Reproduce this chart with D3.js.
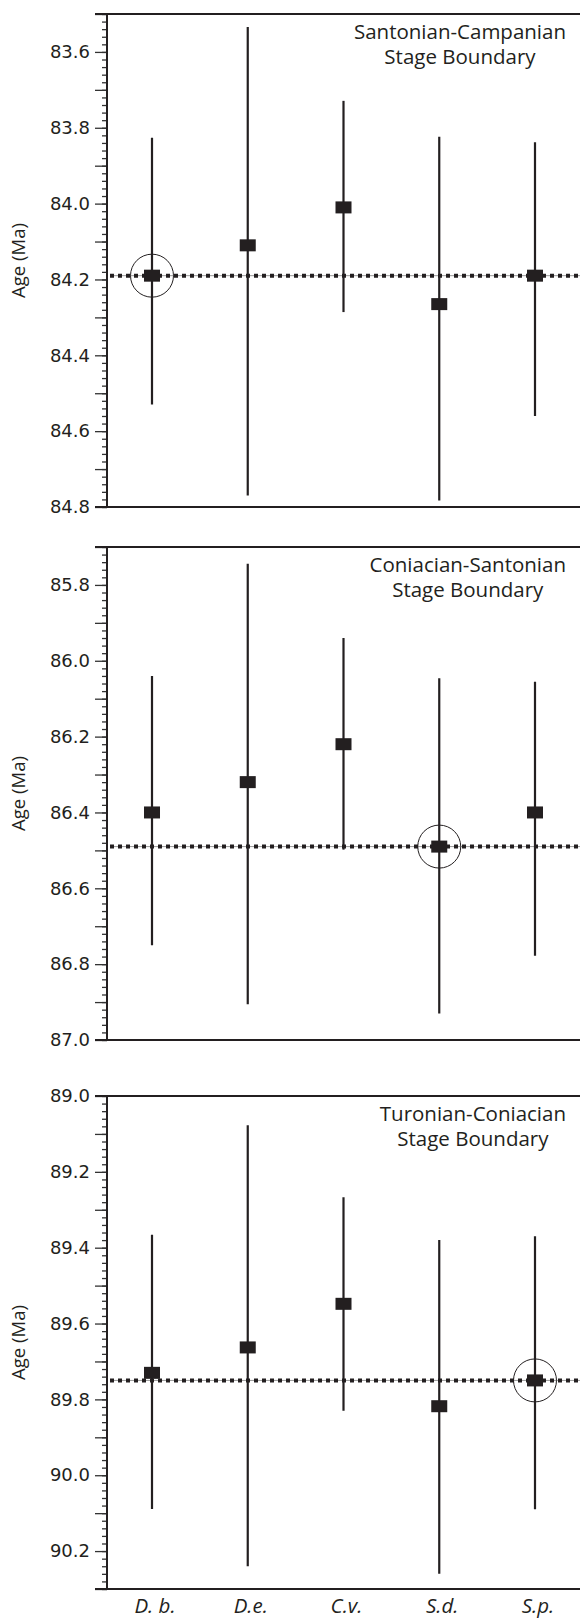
<!DOCTYPE html>
<html>
<head>
<meta charset="utf-8">
<script src="https://cdn.jsdelivr.net/npm/d3@7"></script>
<style>
  body { margin: 0; background: #fff; }
  svg { display: block; }
</style>
</head>
<body>
<div id="age-plot"></div>
<script>
// taxa on the x axis (same for every panel)
var taxa = ["D. b.", "D.e.", "C.v.", "S.d.", "S.p."];

// panel titles, two lines each
var titles = [
  ["Santonian-Campanian", "Stage Boundary"],
  ["Coniacian-Santonian", "Stage Boundary"],
  ["Turonian-Coniacian", "Stage Boundary"]
];

// y domain of each panel (Ma, younger at top)
var domains = [[83.5, 84.8], [85.7, 87.0], [89.0, 90.3]];

// the stage boundary age drawn as the dotted line
var boundaryAges = [84.19, 86.49, 89.75];

// index of the taxon that is circled in each panel
var circled = [0, 3, 4];

// ages and error bar ends, Santonian-Campanian
var ages1 = [84.19, 84.11, 84.01, 84.265, 84.19];
var young1 = [83.826, 83.534, 83.729, 83.824, 83.838];
var old1 = [84.53, 84.77, 84.286, 84.783, 84.56];

// Coniacian-Santonian
var ages2 = [86.40, 86.32, 86.22, 86.49, 86.40];
var young2 = [86.04, 85.744, 85.94, 86.046, 86.055];
var old2 = [86.75, 86.906, 86.498, 86.93, 86.778];

// Turonian-Coniacian
var ages3 = [89.73, 89.663, 89.548, 89.818, 89.75];
var young3 = [89.366, 89.077, 89.267, 89.38, 89.37];
var old3 = [90.089, 90.24, 89.83, 90.26, 90.09];

var ages = [ages1, ages2, ages3];
var youngs = [young1, young2, young3];
var olds = [old1, old2, old3];

var width = 580, height = 1618;
var left = 107;
var panelTops = [14, 547, 1096];
var panelHeight = 493;

var svg = d3.select("#age-plot").append("svg")
  .attr("width", width)
  .attr("height", height);

// shared x scale
var x = d3.scalePoint()
  .domain(taxa)
  .range([left, width])
  .padding(0.47);

var labelFont = "'Open Sans', sans-serif";

function drawPanel(p) {
  var top = panelTops[p];
  var g = svg.append("g").attr("transform", "translate(0," + top + ")");

  var y = d3.scaleLinear()
    .domain(domains[p])
    .range([0, panelHeight]);

  // minor ticks every 0.02, medium every 0.1, labelled every 0.2
  var d0 = domains[p][0], d1 = domains[p][1];
  var n = Math.round((d1 - d0) / 0.02);
  var minor = d3.range(n + 1).map(function(i) { return d0 + i * 0.02; });
  var major = minor.filter(function(v, i) { return i % 5 == 0; });
  var labelled = major.filter(function(v) { return Math.abs(Math.round(v * 10) % 2) == 0; });

  g.append("g")
    .attr("transform", "translate(" + left + ",0)")
    .call(d3.axisLeft(y).tickValues(minor).tickSize(5).tickFormat(""))
    .call(function(a) { a.select(".domain").remove(); })
    .selectAll("line").attr("stroke", "#333").attr("stroke-width", 1.3);

  var ax = g.append("g")
    .attr("transform", "translate(" + left + ",0)")
    .call(d3.axisLeft(y).tickValues(major).tickSize(12).tickPadding(5)
      .tickFormat(function(v) {
        return labelled.indexOf(v) >= 0 ? d3.format(".1f")(v) : "";
      }));
  ax.select(".domain").remove();
  ax.selectAll("line").attr("stroke", "#333").attr("stroke-width", 1.3);
  ax.selectAll("text")
    .attr("font-family", "'DejaVu Sans', sans-serif")
    .attr("font-size", 18)
    .attr("fill", "#231f20");

  // frame: left axis, top and bottom lines (no right side)
  g.append("line")
    .attr("x1", left).attr("x2", left)
    .attr("y1", 0).attr("y2", panelHeight)
    .attr("stroke", "#231f20").attr("stroke-width", 2);
  g.append("line")
    .attr("x1", left - 12).attr("x2", width)
    .attr("y1", 0).attr("y2", 0)
    .attr("stroke", "#231f20").attr("stroke-width", 2);
  g.append("line")
    .attr("x1", left - 12).attr("x2", width)
    .attr("y1", panelHeight).attr("y2", panelHeight)
    .attr("stroke", "#231f20").attr("stroke-width", 2);

  // y axis title
  g.append("text")
    .attr("transform", "translate(25," + (panelHeight / 2) + ") rotate(-90)")
    .attr("text-anchor", "middle")
    .attr("font-family", labelFont)
    .attr("font-size", 18.5)
    .attr("fill", "#231f20")
    .text("Age (Ma)");

  // panel title, first line right-ish, second centred under it
  var t1 = g.append("text")
    .attr("x", 566).attr("y", 25)
    .attr("text-anchor", "end")
    .attr("font-family", labelFont)
    .attr("font-size", 20.5)
    .attr("fill", "#231f20")
    .text(titles[p][0]);
  var w1 = t1.node().getComputedTextLength();
  var cx = 566 - w1 / 2;
  t1.attr("x", cx).attr("text-anchor", "middle");
  g.append("text")
    .attr("x", cx).attr("y", 50)
    .attr("text-anchor", "middle")
    .attr("font-family", labelFont)
    .attr("font-size", 20.5)
    .attr("fill", "#231f20")
    .text(titles[p][1]);

  // boundary: thin grey line with square dots on top
  var by = y(boundaryAges[p]);
  g.append("line")
    .attr("x1", left + 3).attr("x2", width)
    .attr("y1", by).attr("y2", by)
    .attr("stroke", "#9a9a9a").attr("stroke-width", 1);
  g.append("line")
    .attr("x1", left + 3).attr("x2", width)
    .attr("y1", by).attr("y2", by)
    .attr("stroke", "#231f20").attr("stroke-width", 4)
    .attr("stroke-dasharray", "4,4");

  var rows = taxa.map(function(t, i) {
    return {taxon: t, age: ages[p][i], young: youngs[p][i], old: olds[p][i]};
  });

  // error bars
  g.selectAll(".err")
    .data(rows)
    .enter().append("line")
    .attr("class", "err")
    .attr("x1", function(d) { return x(d.taxon); })
    .attr("x2", function(d) { return x(d.taxon); })
    .attr("y1", function(d) { return y(d.young); })
    .attr("y2", function(d) { return y(d.old); })
    .attr("stroke", "#231f20").attr("stroke-width", 2.2);

  // square markers
  g.selectAll(".pt")
    .data(rows)
    .enter().append("rect")
    .attr("class", "pt")
    .attr("x", function(d) { return x(d.taxon) - 8; })
    .attr("y", function(d) { return y(d.age) - 6; })
    .attr("width", 16).attr("height", 12)
    .attr("fill", "#231f20");

  // circle round the chosen taxon
  var c = rows[circled[p]];
  g.append("circle")
    .attr("cx", x(c.taxon))
    .attr("cy", y(c.age))
    .attr("r", 21.5)
    .attr("fill", "none")
    .attr("stroke", "#231f20").attr("stroke-width", 1);
}

[0, 1, 2].forEach(drawPanel);

// x labels under the last panel only
svg.append("g").selectAll("text")
  .data(taxa)
  .enter().append("text")
  .attr("x", function(d) { return x(d) + 3; })
  .attr("y", 1613)
  .attr("text-anchor", "middle")
  .attr("font-family", labelFont)
  .attr("font-style", "italic")
  .attr("font-size", 20.5)
  .attr("fill", "#231f20")
  .text(function(d) { return d; });
</script>
</body>
</html>
